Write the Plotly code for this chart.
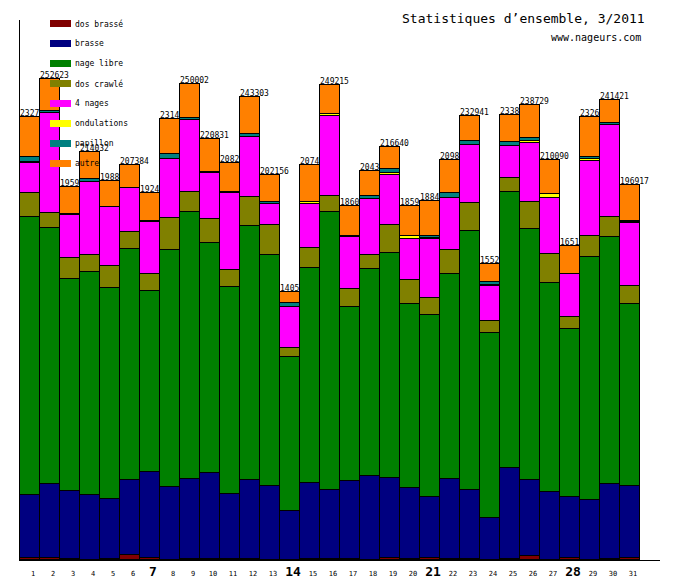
import plotly.graph_objects as go

days = list(range(1, 32))

series_names = ["dos brassé", "brasse", "nage libre", "dos crawlé",
                "4 nages", "ondulations", "papillon", "autre"]
series_colors = ["#800000", "#000080", "#008000", "#808000",
                 "#ff00ff", "#ffff00", "#008080", "#ff8000"]

dos_brasse = [800, 1200, 500, 0, 500, 2500, 1200, 0, 500, 500, 500, 500, 0, 0, 500, 500,
              500, 0, 1200, 500, 1000, 500, 500, 0, 500, 1900, 0, 1000, 0, 500, 1000]
brasse = [33200, 38500, 35500, 34000, 31300, 39400, 44800, 38200, 41800, 45000, 34000,
          41300, 38700, 25600, 39700, 36100, 40800, 43900, 41800, 37100, 31900, 41800,
          36100, 21900, 47600, 39900, 35500, 31900, 31300, 39200, 37600]
nage_libre = [146000, 134400, 111300, 117100, 110800, 121300, 95000, 124400, 140200, 120800,
              108700, 133400, 121300, 80900, 112900, 146000, 91400, 108700, 118100, 96600,
              95500, 107600, 136000, 97100, 144900, 131800, 109700, 88200, 127600, 129700, 95600]
dos_crawle = [12600, 7900, 11000, 8900, 11500, 8900, 8900, 16800, 10500, 12600, 8900, 15200,
              15800, 4700, 10500, 8600, 9400, 7400, 14700, 12800, 8900, 12600, 14700, 6300,
              7400, 14200, 15200, 6300, 11000, 10500, 9500]
quatre_nages = [15700, 52500, 22600, 38600, 31000, 23100, 27800, 31300, 37800, 24500, 40700,
                31500, 11000, 21800, 23300, 41800, 27600, 29400, 26300, 21400, 31000, 27800,
                30600, 18400, 17100, 31000, 29400, 22600, 39500, 48300, 33100]
ondulations = [900, 0, 1000, 0, 0, 0, 0, 0, 0, 0, 0, 0, 0, 0, 900, 900, 0, 0, 1000, 1700,
               800, 0, 0, 800, 0, 1200, 2600, 0, 900, 0, 800]
papillon = [2200, 1400, 0, 1400, 200, 0, 200, 2300, 1100, 200, 200, 1700, 1400, 1800, 0, 200,
            200, 1700, 2100, 0, 1200, 2400, 2100, 1400, 1900, 1600, 0, 200, 1200, 1200, 200]
autre = [21300, 16723, 14000, 14032, 13500, 12184, 14600, 18400, 18102, 17231, 15200, 19703,
         13956, 5700, 19600, 15115, 16100, 13200, 11440, 15800, 18100, 17100, 12941, 9300,
         14400, 17129, 17690, 14900, 21100, 12021, 19117]

# visible (partly hidden) total labels above each bar
total_labels = ["2327", "252623", "1959", "214032", "1988", "207384", "1924", "2314",
                "250002", "220831", "2082", "243303", "202156", "1405", "2074", "249215",
                "1860", "2043", "216640", "1859", "1884", "2098", "232941", "1552", "2338",
                "238729", "210090", "1651", "2326", "241421", "196917"]

sundays = [7, 14, 21, 28]

series_values = [dos_brasse, brasse, nage_libre, dos_crawle, quatre_nages,
                 ondulations, papillon, autre]

MONO = "DejaVu Sans Mono"

fig = go.Figure()
for name, color, vals in zip(series_names, series_colors, series_values):
    fig.add_trace(go.Bar(
        x=days, y=vals, name=name, width=1,
        marker=dict(color=color, line=dict(color="black", width=1)),
        showlegend=False, hoverinfo="x+y+name",
    ))

totals = [sum(v) for v in zip(*series_values)]
annotations = []
for d, t, lab in zip(days, totals, total_labels):
    annotations.append(dict(
        x=d - 0.5, y=t, xref="x", yref="y", text=lab, showarrow=False,
        xanchor="left", yanchor="bottom", xshift=-2, yshift=-3,
        font=dict(family=MONO, size=8, color="black"),
    ))

# manual legend (swatch + label)
PL, PT, PW, PH = 20, 20, 640, 540
def px_x(px):
    return (px - PL) / PW
def px_y(py):
    return (PT + PH - py) / PH

shapes = []
for k, (name, color) in enumerate(zip(series_names, series_colors)):
    top = 20 + 20 * k
    shapes.append(dict(type="rect", xref="paper", yref="paper",
                       x0=px_x(50), x1=px_x(71), y0=px_y(top + 7), y1=px_y(top),
                       fillcolor=color, line=dict(width=0), layer="above"))
    annotations.append(dict(
        x=px_x(73), y=px_y(top + 3.5), xref="paper", yref="paper", text=name,
        showarrow=False, xanchor="left", yanchor="middle",
        font=dict(family=MONO, size=8, color="black"),
    ))

annotations.append(dict(
    x=px_x(400), y=px_y(18.5), xref="paper", yref="paper",
    text="Statistiques d’ensemble, 3/2011", showarrow=False,
    xanchor="left", yanchor="middle", font=dict(family=MONO, size=13, color="black"),
))
annotations.append(dict(
    x=px_x(549), y=px_y(37.5), xref="paper", yref="paper",
    text="www.nageurs.com", showarrow=False,
    xanchor="left", yanchor="middle", font=dict(family=MONO, size=10, color="black"),
))

ticktext = []
for d in days:
    if d in sundays:
        ticktext.append("<b><span style='font-size:13px'>%d</span></b>" % d)
    else:
        ticktext.append(str(d))

fig.update_layout(
    width=680, height=580,
    margin=dict(l=20, r=20, t=20, b=20, autoexpand=False),
    paper_bgcolor="white", plot_bgcolor="white",
    barmode="stack", bargap=0,
    annotations=annotations, shapes=shapes,
    xaxis=dict(
        range=[0.5, 32.5], tickmode="array", tickvals=days, ticktext=ticktext,
        showline=True, linecolor="black", linewidth=1, ticks="",
        showgrid=False, zeroline=False, ticklabelshift=3, automargin=False,
        ticklabelstandoff=7,
        tickfont=dict(family=MONO, size=7, color="black"),
    ),
    yaxis=dict(
        range=[0, 283500], showline=True, linecolor="black", linewidth=1,
        showticklabels=False, ticks="", showgrid=False, zeroline=False,
        automargin=False,
    ),
)

fig.write_html("out.html")
